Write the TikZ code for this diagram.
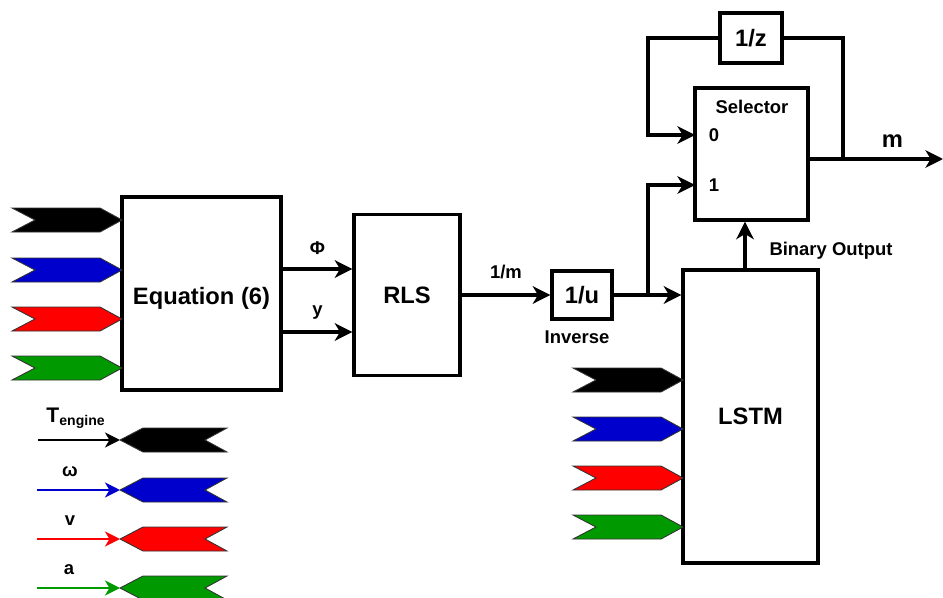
\documentclass[tikz,border=0pt]{standalone}
\usepackage{fontspec}
\setmainfont{Liberation Sans}
\usetikzlibrary{arrows.meta}
\definecolor{sigblue}{HTML}{0000CC}
\definecolor{sigred}{HTML}{FF0000}
\definecolor{siggreen}{HTML}{009900}

\begin{document}
\begin{tikzpicture}[x=0.02cm,y=-0.02cm,>={Stealth[length=10pt,width=10pt,inset=3pt]},
  blk/.style={draw,line width=1.9pt,fill=white,font=\bfseries\fontsize{13.5}{16}\selectfont},
  lbl/.style={font=\bfseries\fontsize{10.5}{12}\selectfont},
  wire/.style={line width=1.9pt},
  leg/.style={line width=1.5pt,->,>={Stealth[length=8.5pt,width=8.5pt,inset=2.5pt]}},
  pics/inchev/.style={code={
    \draw[fill=#1,draw=black!80,line width=0.5pt] (0,0) -- (-22,-12) -- (-110,-12) -- (-87,0) -- (-110,12) -- (-22,12) -- cycle;
    \coordinate (-tip) at (0,0);}},
  pics/outchev/.style={code={
    \draw[fill=#1,draw=black!80,line width=0.5pt] (0,0) -- (23,-12) -- (107,-12) -- (85,0) -- (107,12) -- (23,12) -- cycle;
    \coordinate (-tip) at (0,0);}}]
  \useasboundingbox (0,0) rectangle (943,598);

  % blocks
  \node[blk,minimum width=159*0.02cm,minimum height=193*0.02cm,text height=13pt,text depth=0pt] (eq) at (201.5,293.5) {Equation (6)};
  \node[blk,minimum width=106*0.02cm,minimum height=161*0.02cm] (rls) at (407,295) {RLS};
  \node[blk,minimum width=60*0.02cm,minimum height=48*0.02cm] (inv) at (582,295) {1/u};
  \node[blk,minimum width=135*0.02cm,minimum height=293*0.02cm] (lstm) at (750.5,416.5) {LSTM};
  \node[blk,minimum width=113*0.02cm,minimum height=132*0.02cm] (sel) at (751.5,154) {};
  \node[blk,minimum width=62*0.02cm,minimum height=50*0.02cm] (dz) at (751,38) {1/z};

  % selector texts
  \node[lbl] (seltxt) at (752,107) {Selector};
  \node[lbl] (p0) at (714,135) {0};
  \node[lbl] (p1) at (714,185) {1};
  \coordinate (s0) at (695,135);
  \coordinate (s1) at (695,185);

  % signal chevrons
  \pic (ea) at (122,220) {inchev=black};
  \pic (eb) at (122,270) {inchev=sigblue};
  \pic (ec) at (122,319) {inchev=sigred};
  \pic (ed) at (122,368) {inchev=siggreen};
  \pic (la) at (683,380) {inchev=black};
  \pic (lb) at (683,429) {inchev=sigblue};
  \pic (lc) at (683,478) {inchev=sigred};
  \pic (ld) at (683,527) {inchev=siggreen};

  % connectors
  \draw[wire,->] (eq.east |- 0,269) -- (rls.west |- 0,269) node[lbl,midway,above=4pt] (phi) {Φ};
  \draw[wire,->] (eq.east |- 0,332) -- (rls.west |- 0,332) node[lbl,midway,above=3pt] (yy) {y};
  \draw[wire,->] (rls.east) -- (inv.west) node[lbl,midway,above=5pt] (im) {1/m};
  \node[lbl] (invtxt) at (577,337) {Inverse};
  \coordinate (br) at (648,295);
  \draw[wire,->] (inv.east) -- (inv.east -| lstm.west);
  \draw[wire,->] (br) |- (s1);
  \coordinate (fb) at (843,159);
  \coordinate (out) at (943,159);
  \draw[wire,->] (sel.east |- out) -- (out) node[lbl,font=\bfseries\fontsize{13.5}{16}\selectfont,pos=0.62,above=2pt] (mm) {m};
  \draw[wire] (fb) |- (dz.east);
  \coordinate (lp) at (648,38);
  \draw[wire,->] (dz.west) -- (lp) |- (s0);
  \draw[wire,->] (lstm.north -| 745,0) -- (sel.south -| 745,0);
  \node[lbl] (bin) at (831,251) {Binary Output};

  % legend
  \pic (ta) at (120,440) {outchev=black};
  \pic (tb) at (120,490) {outchev=sigblue};
  \pic (tc) at (120,539) {outchev=sigred};
  \pic (td) at (120,588) {outchev=siggreen};
  \coordinate (ga) at (38,440);
  \coordinate (gb) at (37,490);
  \coordinate (gc) at (37,539);
  \coordinate (gd) at (37,588);
  \draw[leg] (ga) -- (ta-tip);
  \draw[leg,sigblue] (gb) -- (tb-tip);
  \draw[leg,sigred] (gc) -- (tc-tip);
  \draw[leg,siggreen] (gd) -- (td-tip);
  \node[lbl,font=\bfseries\fontsize{12}{14}\selectfont] (ltxt) at (76,418) {T\textsubscript{engine}};
  \node[lbl] (wtxt) at (70,472) {ω};
  \node[lbl] (vtxt) at (70,521) {v};
  \node[lbl] (atxt) at (69,570) {a};
\end{tikzpicture}
\end{document}
